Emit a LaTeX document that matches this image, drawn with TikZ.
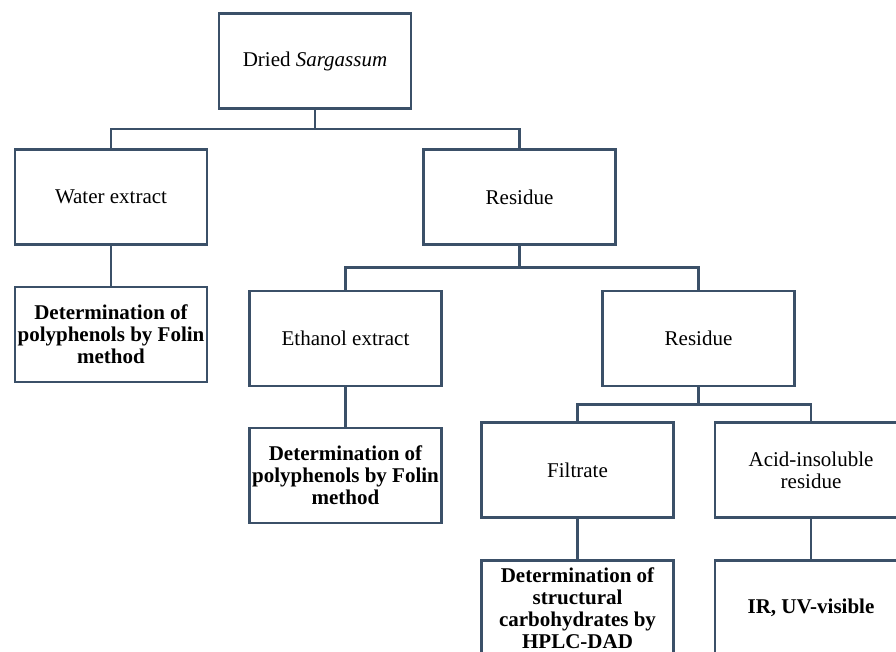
\documentclass[tikz,border=0pt]{standalone}
\usepackage{fontspec}
\setmainfont{Liberation Serif}
\usepackage{tikz}
\usetikzlibrary{calc}
\definecolor{lineblue}{RGB}{59,80,104}
\tikzset{
  boxN/.style={ draw=lineblue, line width=2.6pt, minimum width=192pt, minimum height=95pt, align=center, font=\fontsize{21}{22}\selectfont, inner sep=0pt }
}
\tikzset{
  boxB/.style={ boxN, font=\fontsize{21}{22}\selectfont\bfseries }
}
\tikzset{
  conn/.style={ draw=lineblue, line width=2.6pt }
}

\begin{document}
\begin{tikzpicture}[y=-1pt, x=1pt]
      \useasboundingbox (0, 0) rectangle (896, 651);
      \clip (0, 0) rectangle (896, 651);
      \node[boxN] (dried) at (315, 61) {Dried \textit{Sargassum}};
      \node[boxN] (water) at (111, 197) {Water extract};
      \node[boxN] (res1) at (519.5, 197) {Residue};
      \node[boxB] (det1) at (111, 334.5) {Determination of\\polyphenols by Folin\\method};
      \node[boxN] (ethanol) at (345.5, 338.5) {Ethanol extract};
      \node[boxN] (res2) at (698.5, 338.5) {Residue};
      \node[boxB] (det2) at (345.5, 475.5) {Determination of\\polyphenols by Folin\\method};
      \node[boxN] (filtrate) at (577.5, 470) {Filtrate};
      \node[boxN] (acid) at (811, 470) {Acid-insoluble\\residue};
      \node[boxB] (det3) at (577.5, 608) {Determination of\\structural\\carbohydrates by\\HPLC-DAD};
      \node[boxB] (ir) at (811, 608) {IR, UV-visible};
      % branch points
      \coordinate (b1) at ($(dried.south)!0.5!(res1.north)$);
      \coordinate (b2) at ($(res1.south)!0.5!(res2.north)$);
      \coordinate (b3) at ($(res2.south)!0.5!(acid.north)$);
      \draw[conn] (dried.south) -- (dried.south |- b1);
      \draw[conn] (water.north) |- (b1) -| (res1.north);
      \draw[conn] (res1.south) -- (res1.south |- b2);
      \draw[conn] (ethanol.north) |- (b2) -| (res2.north);
      \draw[conn] (res2.south) -- (res2.south |- b3);
      \draw[conn] (filtrate.north) |- (b3) -| (acid.north);
      \draw[conn] (water) -- (det1);
      \draw[conn] (ethanol) -- (det2);
      \draw[conn] (filtrate) -- (det3);
      \draw[conn] (acid) -- (ir);
    \end{tikzpicture}
\end{document}
